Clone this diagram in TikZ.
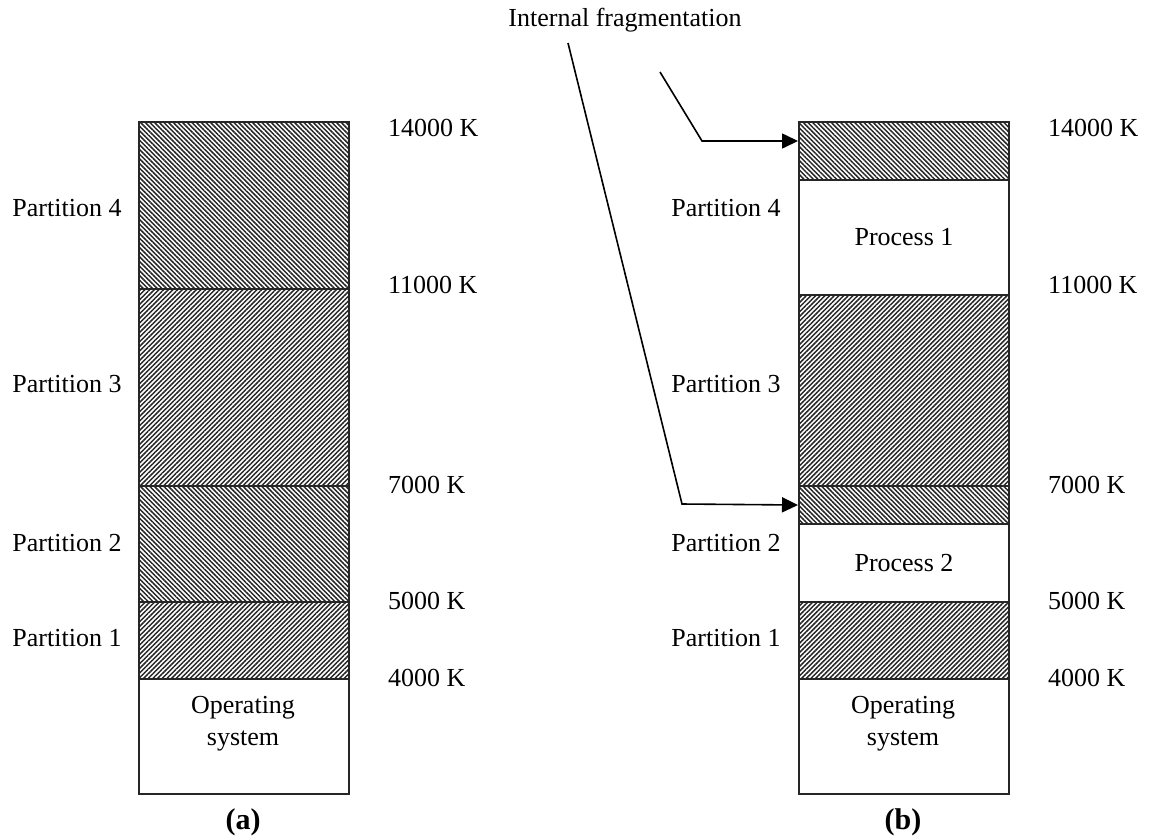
\documentclass[tikz,border=0pt]{standalone}
\usepackage{fontspec}
\setmainfont{Liberation Serif}
\usetikzlibrary{patterns.meta,arrows.meta}
\begin{document}
\begin{tikzpicture}[x=1pt,y=-1pt,
  seg/.style={draw=black!85, line width=2pt, minimum width=210pt, inner sep=0pt, anchor=north west, font=\fontsize{26}{30}\selectfont, align=center},
  hnw/.style={pattern={Lines[angle=-45,distance=3.3pt,line width=1.5pt]}, pattern color=black!85},
  hne/.style={pattern={Lines[angle=45,distance=3.3pt,line width=1.5pt]}, pattern color=black!85},
  lbl/.style={font=\fontsize{26}{32}\selectfont, inner sep=0pt, align=center},
  captext/.style={font=\fontsize{30}{34}\selectfont\bfseries, inner sep=0pt},
  arr/.style={line width=1.6pt, -{Triangle[length=16pt,width=15pt]}}
]
\useasboundingbox (0,0) rectangle (1150,836);
% (a)
\node[seg,hnw,minimum height=167pt] (a4) at (138,121) {};
\node[seg,hne,minimum height=197pt] (a3) at (138,288) {};
\node[seg,hnw,minimum height=116pt] (a2) at (138,485) {};
\node[seg,hne,minimum height=77pt] (a1) at (138,601) {};
\node[seg,minimum height=115pt] (aos) at (138,678) {};
\node[lbl] (aost) at (243,724) {Operating\\system};
% (b)
\node[seg,hnw,minimum height=58pt] (bf4) at (798,121) {};
\node[seg,minimum height=115pt] (bp1) at (798,179) {Process 1};
\node[seg,hne,minimum height=191pt] (b3) at (798,294) {};
\node[seg,hnw,minimum height=38pt] (bf2) at (798,485) {};
\node[seg,minimum height=78pt] (bp2) at (798,523) {Process 2};
\node[seg,hne,minimum height=77pt] (b1) at (798,601) {};
\node[seg,minimum height=115pt] (bos) at (798,678) {};
\node[lbl] (bost) at (903,724) {Operating\\system};
% partition labels
\foreach \c/\y/\t in {a/208/Partition 4, b/384/Partition 3, c/543/Partition 2, d/638/Partition 1}{
  \node[lbl] (pa\c) at (67,\y) {\t};
  \node[lbl] (pb\c) at (726,\y) {\t};
}
% address labels
\foreach \c/\y/\t in {a/128/14000 K, b/285/11000 K, c/485/7000 K, d/601/5000 K, e/678/4000 K}{
  \node[lbl,anchor=west] (ka\c) at (388,\y) {\t};
  \node[lbl,anchor=west] (kb\c) at (1048,\y) {\t};
}
\node[captext] (capa) at (243,822) {(a)};
\node[captext] (capb) at (903,822) {(b)};
\node[lbl] (frag) at (625,20) {Internal fragmentation};
\coordinate (s1) at (568,43);
\coordinate (s2) at (660,72);
\coordinate (t2) at (798,141);
\draw[arr] (s1) -- (682,504) -- (bf2.west);
\draw[arr] (s2) -- (702,141) -- (t2);
\end{tikzpicture}
\end{document}
